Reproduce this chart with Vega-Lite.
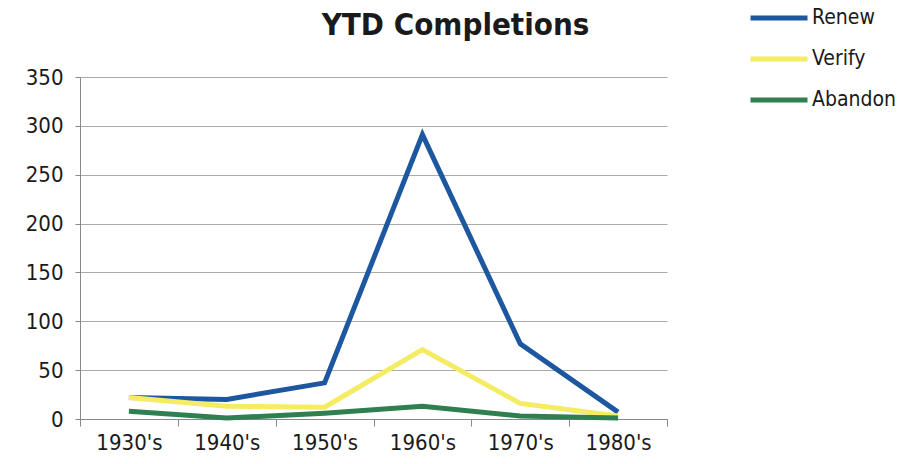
{
  "$schema": "https://vega.github.io/schema/vega-lite/v6.json",
  "autosize": "none",
  "width": 587,
  "height": 342,
  "padding": {"left": 80, "top": 77, "right": 245, "bottom": 45},
  "background": "white",
  "title": {
    "text": "YTD Completions",
    "font": "DejaVu Sans Condensed, Liberation Sans, sans-serif",
    "fontSize": 31,
    "fontWeight": "bold",
    "color": "#1a1a1a",
    "anchor": "middle",
    "dx": 82,
    "offset": -55
  },
  "data": {
    "values": [
      {"decade": "1930's", "series": "Renew", "value": 22},
      {"decade": "1940's", "series": "Renew", "value": 20},
      {"decade": "1950's", "series": "Renew", "value": 37},
      {"decade": "1960's", "series": "Renew", "value": 291},
      {"decade": "1970's", "series": "Renew", "value": 77},
      {"decade": "1980's", "series": "Renew", "value": 7},
      {"decade": "1930's", "series": "Verify", "value": 22},
      {"decade": "1940's", "series": "Verify", "value": 13},
      {"decade": "1950's", "series": "Verify", "value": 12},
      {"decade": "1960's", "series": "Verify", "value": 71},
      {"decade": "1970's", "series": "Verify", "value": 16},
      {"decade": "1980's", "series": "Verify", "value": 3},
      {"decade": "1930's", "series": "Abandon", "value": 8},
      {"decade": "1940's", "series": "Abandon", "value": 1},
      {"decade": "1950's", "series": "Abandon", "value": 6},
      {"decade": "1960's", "series": "Abandon", "value": 13},
      {"decade": "1970's", "series": "Abandon", "value": 3},
      {"decade": "1980's", "series": "Abandon", "value": 1}
    ]
  },
  "mark": {"type": "line", "strokeWidth": 5, "strokeJoin": "miter"},
  "encoding": {
    "x": {
      "field": "decade",
      "type": "ordinal",
      "title": null,
      "scale": {"type": "band", "paddingInner": 0, "paddingOuter": 0},
      "axis": {
        "labelAngle": 0,
        "labelFont": "DejaVu Sans Condensed, Liberation Sans, sans-serif",
        "labelFontSize": 22,
        "labelColor": "#1a1a1a",
        "labelPadding": 6,
        "domainColor": "#888888",
        "tickColor": "#888888",
        "tickSize": 7,
        "tickBand": "extent",
        "grid": false
      }
    },
    "y": {
      "field": "value",
      "type": "quantitative",
      "title": null,
      "scale": {"domain": [0, 350], "nice": false},
      "axis": {
        "values": [0, 50, 100, 150, 200, 250, 300, 350],
        "labelFont": "DejaVu Sans Condensed, Liberation Sans, sans-serif",
        "labelFontSize": 22,
        "labelColor": "#1a1a1a",
        "labelPadding": 12,
        "domainColor": "#888888",
        "tickColor": "#888888",
        "tickSize": 5,
        "gridColor": "#aaaaaa",
        "gridWidth": 1
      }
    },
    "color": {
      "field": "series",
      "type": "nominal",
      "scale": {"domain": ["Renew", "Verify", "Abandon"], "range": ["#1c57a0", "#f4ec62", "#2f7f50"]},
      "sort": ["Renew", "Verify", "Abandon"],
      "legend": {
        "title": null,
        "orient": "none",
        "legendX": 668,
        "legendY": -90,
        "symbolType": "stroke",
        "symbolSize": 3249,
        "symbolStrokeWidth": 5,
        "labelFont": "DejaVu Sans Condensed, Liberation Sans, sans-serif",
        "labelFontSize": 21,
        "labelColor": "#1a1a1a",
        "labelOffset": 2,
        "rowPadding": -30
      }
    }
  },
  "config": {"view": {"stroke": null}}
}
